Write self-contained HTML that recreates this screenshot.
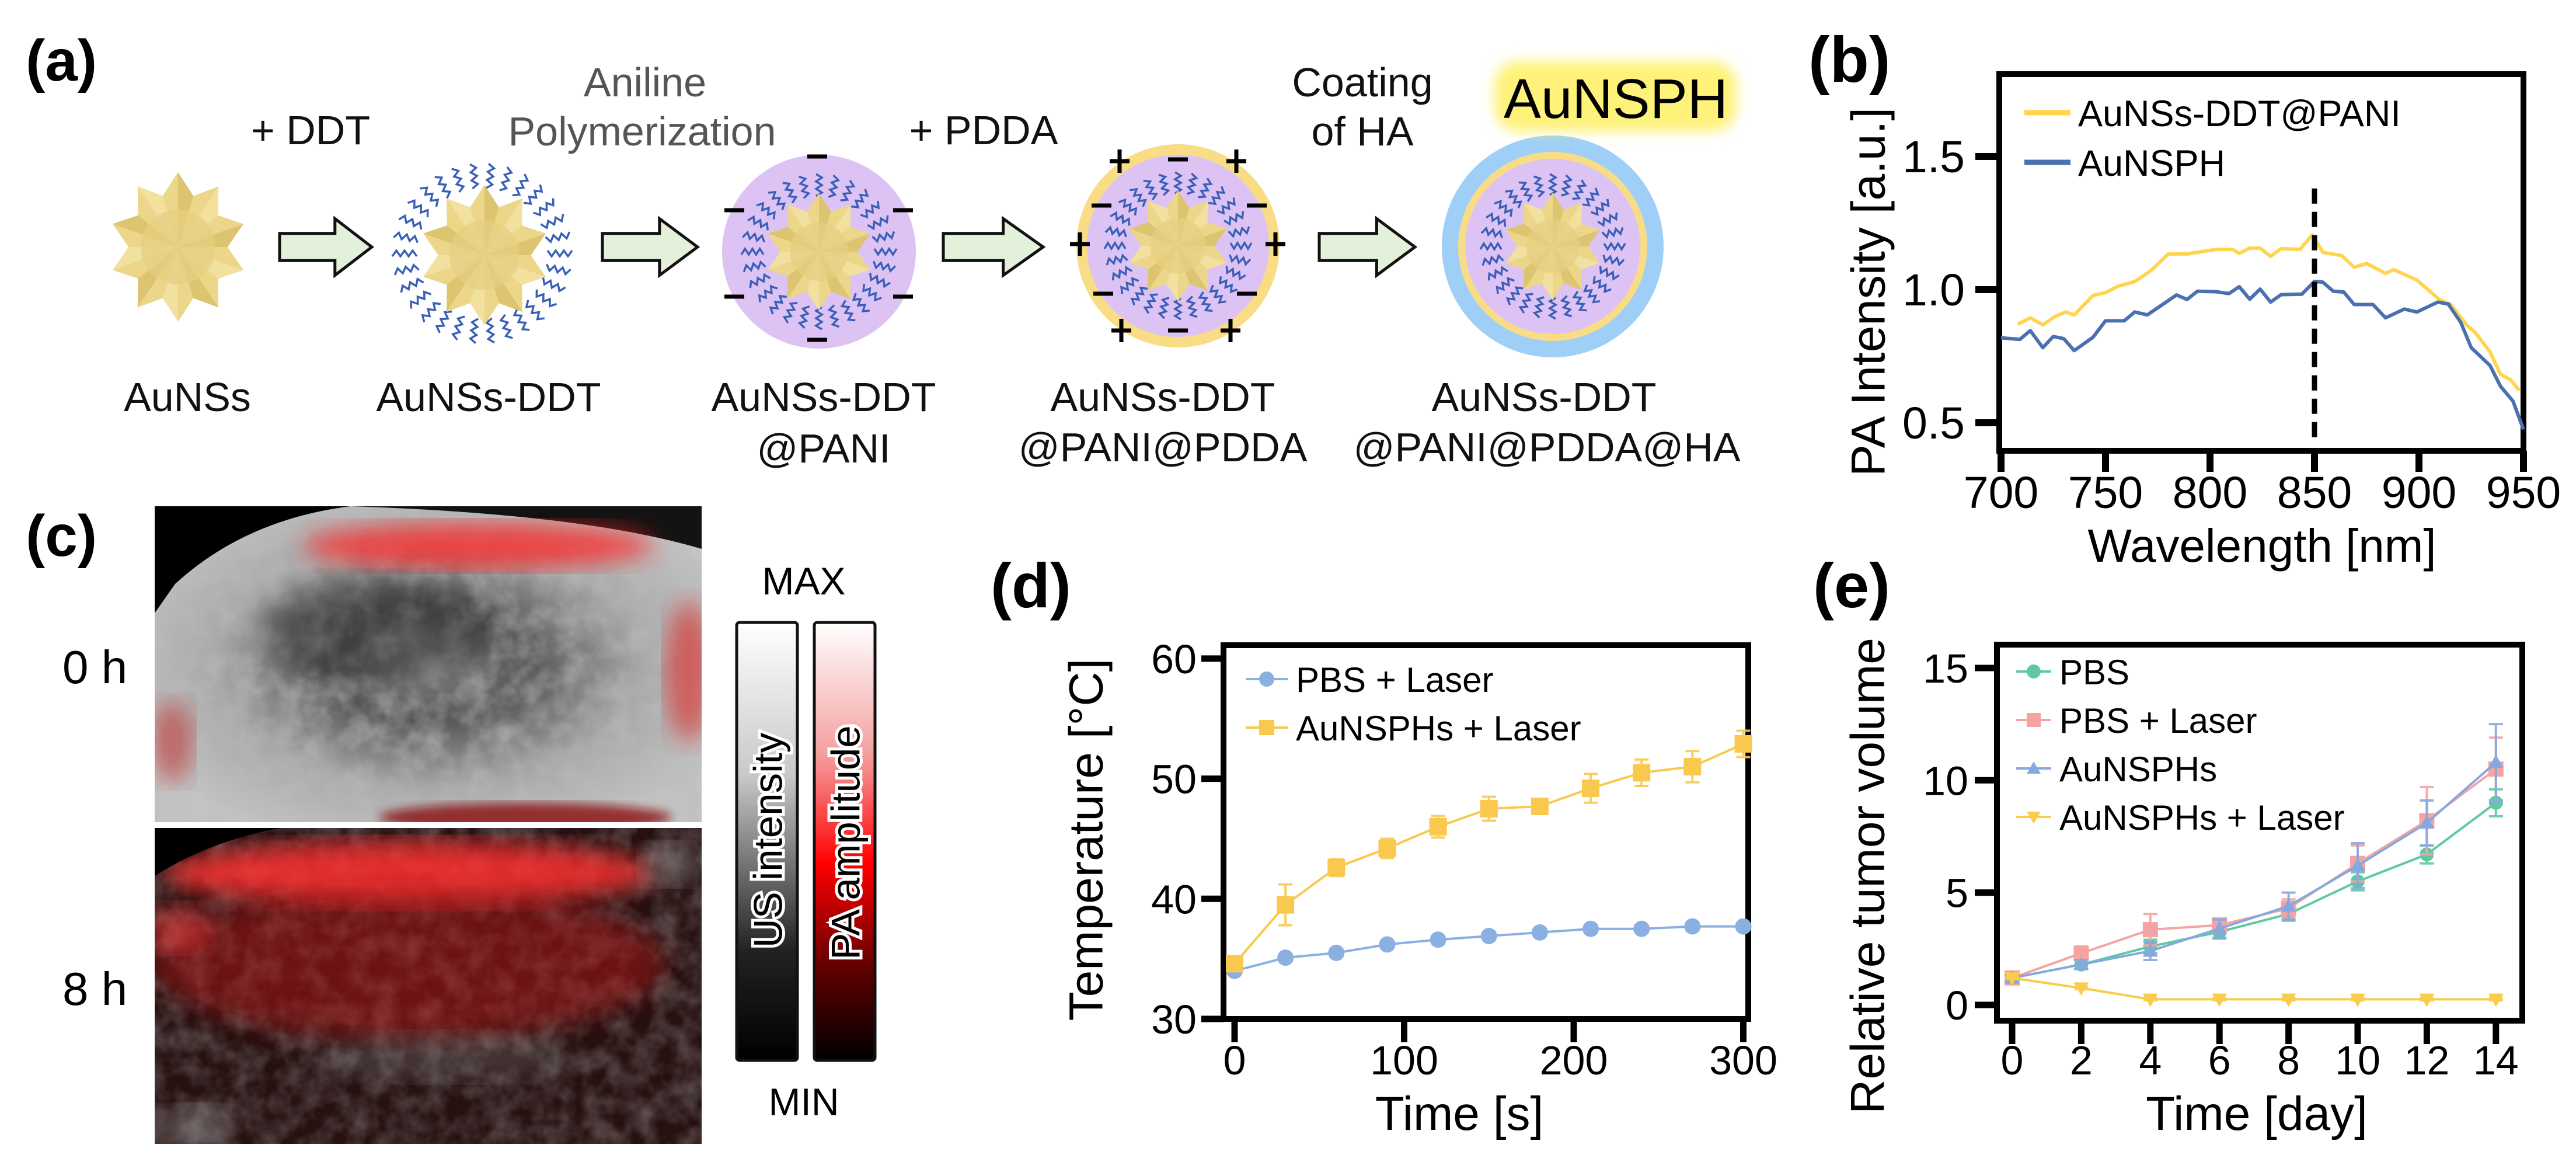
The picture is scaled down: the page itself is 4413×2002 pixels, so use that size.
<!DOCTYPE html>
<html><head><meta charset="utf-8"><style>
html,body{margin:0;padding:0;background:#fff}
svg{display:block;font-family:"Liberation Sans",Arial,sans-serif}
</style></head><body>
<svg id="fig" xmlns="http://www.w3.org/2000/svg" width="4413" height="2002" viewBox="0 0 4413 2002">
<defs>
  <linearGradient id="usGrad" x1="0" y1="0" x2="0" y2="1"><stop offset="0" stop-color="#fff"/><stop offset="0.35" stop-color="#c8c8c8"/><stop offset="0.75" stop-color="#222"/><stop offset="1" stop-color="#000"/></linearGradient>
  <linearGradient id="paGrad" x1="0" y1="0" x2="0" y2="1"><stop offset="0" stop-color="#fff"/><stop offset="0.3" stop-color="#f4a0a0"/><stop offset="0.55" stop-color="#ff0000"/><stop offset="0.8" stop-color="#5a0000"/><stop offset="1" stop-color="#000"/></linearGradient>
  <filter id="blur20"><feGaussianBlur stdDeviation="20"/></filter>
  <filter id="blur8"><feGaussianBlur stdDeviation="8"/></filter>
  <filter id="noise" x="0" y="0" width="1" height="1"><feTurbulence type="fractalNoise" baseFrequency="0.025" numOctaves="3" seed="4"/><feColorMatrix type="matrix" values="0 0 0 0 0.5  0 0 0 0 0.5  0 0 0 0 0.5  0 0 0 1.6 -0.5"/></filter>
  <filter id="glow" x="-20%" y="-40%" width="140%" height="180%"><feGaussianBlur stdDeviation="10"/></filter>
  <clipPath id="clipTop"><rect x="265" y="867" width="937" height="541"/></clipPath>
  <clipPath id="clipBot"><rect x="265" y="1418" width="937" height="541"/></clipPath>
  <radialGradient id="tissueTop" cx="0.5" cy="0.5" r="0.6"><stop offset="0" stop-color="#8a8a8a"/><stop offset="0.3" stop-color="#555"/><stop offset="0.65" stop-color="#a8a8a8"/><stop offset="1" stop-color="#c4c4c4"/></radialGradient>
</defs>

<!-- ===== Panel a ===== -->
<g id="panelA">
  <text x="44" y="138" font-size="100" font-weight="bold">(a)</text>
  <g id="particles"></g>
  <g font-size="70" text-anchor="middle" fill="#111">
    <text x="532" y="247">+ DDT</text>
    <text x="1105" y="165" fill="#555">Aniline</text>
    <text x="1100" y="249" fill="#555">Polymerization</text>
    <text x="1685" y="247">+ PDDA</text>
    <text x="2334" y="165">Coating</text>
    <text x="2334" y="249">of HA</text>
    <text x="321" y="704">AuNSs</text>
    <text x="837" y="704">AuNSs-DDT</text>
    <text x="1411" y="704">AuNSs-DDT</text>
    <text x="1411" y="792">@PANI</text>
    <text x="1992" y="704">AuNSs-DDT</text>
    <text x="1992" y="790">@PANI@PDDA</text>
    <text x="2645" y="704">AuNSs-DDT</text>
    <text x="2650" y="790">@PANI@PDDA@HA</text>
  </g>
  <rect x="2560" y="105" width="415" height="120" rx="40" fill="#fff27a" filter="url(#glow)"/>
  <text x="2768" y="202" font-size="96" text-anchor="middle">AuNSPH</text>
</g>

<!-- ===== Panel c ===== -->
<g id="panelC">
  <text x="44" y="952" font-size="100" font-weight="bold">(c)</text>
  <text x="107" y="1170" font-size="80">0 h</text>
  <text x="107" y="1721" font-size="80">8 h</text>
  <g clip-path="url(#clipTop)">
    <rect x="265" y="867" width="937" height="541" fill="url(#tissueTop)"/>
    <rect x="265" y="867" width="937" height="541" filter="url(#noise)" opacity="0.7"/>
    <path d="M265 867 H600 Q420 890 300 1000 L265 1050 Z" fill="#000"/>
    <path d="M600 867 H1202 V940 Q1000 880 600 867 Z" fill="#000" opacity="0.9"/>
    <ellipse cx="820" cy="935" rx="300" ry="40" fill="#ff2020" opacity="0.75" filter="url(#blur20)"/>
    <ellipse cx="1180" cy="1150" rx="40" ry="120" fill="#e02020" opacity="0.6" filter="url(#blur20)"/>
    <ellipse cx="295" cy="1270" rx="35" ry="70" fill="#c02020" opacity="0.55" filter="url(#blur20)"/>
    <ellipse cx="900" cy="1400" rx="250" ry="25" fill="#8a1010" opacity="0.8" filter="url(#blur8)"/>
    <ellipse cx="650" cy="1080" rx="200" ry="90" fill="#222" opacity="0.45" filter="url(#blur20)"/>
  </g>
  <g clip-path="url(#clipBot)">
    <rect x="265" y="1418" width="937" height="541" fill="#261010"/>
    <rect x="265" y="1418" width="937" height="541" filter="url(#noise)" opacity="0.4"/>
    <ellipse cx="700" cy="1495" rx="420" ry="55" fill="#ff3030" opacity="0.85" filter="url(#blur20)"/>
    <ellipse cx="700" cy="1650" rx="440" ry="130" fill="#b01818" opacity="0.5" filter="url(#blur20)"/>
    <ellipse cx="300" cy="1590" rx="60" ry="40" fill="#ff4040" opacity="0.5" filter="url(#blur20)"/>
    <ellipse cx="760" cy="1810" rx="220" ry="40" fill="#888" opacity="0.3" filter="url(#blur20)"/>
    <ellipse cx="330" cy="1930" rx="70" ry="35" fill="#999" opacity="0.45" filter="url(#blur20)"/>
    <ellipse cx="1150" cy="1480" rx="50" ry="35" fill="#aaa" opacity="0.45" filter="url(#blur20)"/>
    <path d="M265 1418 H480 Q360 1440 265 1500 Z" fill="#000"/>
  </g>
  <text x="1377" y="1018" font-size="66" text-anchor="middle">MAX</text>
  <text x="1377" y="1910" font-size="66" text-anchor="middle">MIN</text>
  <rect x="1262" y="1066" width="104" height="750" rx="5" fill="url(#usGrad)" stroke="#111" stroke-width="5"/>
  <rect x="1395" y="1066" width="104" height="750" rx="5" fill="url(#paGrad)" stroke="#111" stroke-width="5"/>
  <text transform="translate(1316,1439) rotate(-90)" font-size="69" text-anchor="middle" dominant-baseline="central" stroke="#fff" stroke-width="10" paint-order="stroke" fill="#000">US intensity</text>
  <text transform="translate(1449,1443) rotate(-90)" font-size="69" text-anchor="middle" dominant-baseline="central" stroke="#fff" stroke-width="10" paint-order="stroke" fill="#000">PA amplitude</text>
</g>

<g id="panelB">
  <text x="3098" y="140" font-size="110" font-weight="bold">(b)</text>
</g>
<g id="panelD">
  <text x="1697" y="1040" font-size="108" font-weight="bold">(d)</text>
</g>
<g id="panelE">
  <text x="3106" y="1040" font-size="108" font-weight="bold">(e)</text>
</g>
</svg>
<script>
// ---------- Panel b data ----------
const bYellowX = [708,714,720,726,731,735,744,750,756,764,772,780,789,803,811,814,819,824,829,834,843,849,854,863,869,875,884,888,899,910,915,923,927,934,939,944,948];
const bYellowY = [0.87,0.894,0.868,0.90,0.916,0.905,0.978,0.989,1.013,1.030,1.073,1.134,1.134,1.151,1.151,1.136,1.156,1.156,1.125,1.154,1.151,1.206,1.140,1.128,1.084,1.098,1.061,1.075,1.036,0.961,0.946,0.866,0.838,0.766,0.682,0.660,0.621];
const bBlueX = [700,709,714,720,725,730,735,744,750,759,764,770,784,789,794,803,809,814,819,824,829,834,844,850,854,859,864,869,878,884,893,899,909,914,920,925,934,939,945,950];
const bBlueY = [0.819,0.813,0.846,0.782,0.824,0.816,0.771,0.821,0.883,0.883,0.916,0.905,0.980,0.963,0.994,0.992,0.985,1.011,0.964,1.002,0.953,0.981,0.983,1.031,1.028,0.994,0.991,0.944,0.944,0.894,0.927,0.916,0.953,0.946,0.877,0.782,0.715,0.637,0.581,0.475];
const bXTicks = [700,750,800,850,900,950];
const bYTicks = [0.5,1.0,1.5];
const bYTickLabels = ["0.5","1.0","1.5"];
const bDashX = 850;
const bDashRange = [0.44,1.38];
const bLegend = ["AuNSs-DDT@PANI","AuNSPH"];

// ---------- Panel d data ----------
const dTimes = [0,30,60,90,120,150,180,210,240,270,300];
const dPBS = [34.0,35.1,35.5,36.2,36.6,36.9,37.2,37.5,37.5,37.7,37.7];
const dPBSErr = [0.3,0.3,0.3,0.3,0.3,0.3,0.3,0.3,0.3,0.3,0.3];
const dAu = [34.6,39.5,42.6,44.2,46.0,47.5,47.7,49.2,50.5,51.0,52.9];
const dAuErr = [0.5,1.7,0.7,0.8,0.9,1.0,0.5,1.2,1.1,1.3,1.1];
const dXTicks = [0,100,200,300];
const dYTicks = [30,40,50,60];
const dLegend = ["PBS + Laser","AuNSPHs + Laser"];

// ---------- Panel e data ----------
const eDays = [0,2,4,6,8,10,12,14];
const ePBS = [1.2,1.8,2.6,3.25,4.05,5.5,6.7,9.0];
const ePBSErr = [0.1,0.2,0.3,0.3,0.3,0.4,0.4,0.6];
const ePBSL = [1.2,2.3,3.35,3.55,4.3,6.3,8.2,10.5];
const ePBSLErr = [0.1,0.3,0.7,0.3,0.4,0.8,1.5,1.4];
const eAu = [1.2,1.8,2.4,3.4,4.4,6.2,8.1,10.8];
const eAuErr = [0.1,0.2,0.4,0.4,0.6,1.0,1.0,1.7];
const eAuL = [1.2,0.75,0.25,0.25,0.25,0.25,0.25,0.25];
const eAuLErr = [0.05,0.05,0.05,0.05,0.05,0.05,0.05,0.05];
const eXTicks = [0,2,4,6,8,10,12,14];
const eYTicks = [0,5,10,15];
const eLegend = ["PBS","PBS + Laser","AuNSPHs","AuNSPHs + Laser"];

const NS = "http://www.w3.org/2000/svg";
function mk(parent, tag, attrs, text) {
  const el = document.createElementNS(NS, tag);
  for (const k in attrs) el.setAttribute(k, attrs[k]);
  if (text !== undefined) el.textContent = text;
  parent.appendChild(el);
  return el;
}

// ---------- Panel b ----------
(function(){
  const g = document.getElementById('panelB');
  const xs = v => 3428 + (v - 700) * 3.58;
  const ys = v => 496 - (v - 1) * 456;
  const box = mk(g,'rect',{x:3425,y:127,width:898,height:645,fill:'none',stroke:'#000','stroke-width':10});
  
  
  bYTicks.forEach((t,i)=>{
    const l = mk(g,'line',{x1:3384,x2:3425,y1:ys(t),y2:ys(t),stroke:'#000','stroke-width':12});
    
    
    const tx = mk(g,'text',{x:3366,y:ys(t)+27,'font-size':77,'text-anchor':'end'},bYTickLabels[i]);
    
    
  });
  bXTicks.forEach(t=>{
    const l = mk(g,'line',{x1:xs(t),x2:xs(t),y1:772,y2:808,stroke:'#000','stroke-width':12});
    
    
    const tx = mk(g,'text',{x:xs(t),y:870,'font-size':77,'text-anchor':'middle'},String(t));
    
    
  });
  const xl = mk(g,'text',{x:3875,y:962,'font-size':80,'text-anchor':'middle'},'Wavelength [nm]');
  
  
  const yl = mk(g,'text',{transform:'translate(3201,500) rotate(-90)','font-size':82,'text-anchor':'middle','dominant-baseline':'central'},'PA Intensity [a.u.]');
  
  
  const py = bYellowX.map((x,i)=>xs(x)+','+ys(bYellowY[i])).join(' ');
  const ly = mk(g,'polyline',{points:py,fill:'none',stroke:'#ffd54f','stroke-width':6,'stroke-linejoin':'round'});
  
  
  const pb = bBlueX.map((x,i)=>xs(x)+','+ys(bBlueY[i])).join(' ');
  const lb = mk(g,'polyline',{points:pb,fill:'none',stroke:'#4a70b0','stroke-width':6,'stroke-linejoin':'round'});
  
  
  const dl = mk(g,'line',{x1:xs(bDashX),x2:xs(bDashX),y1:ys(bDashRange[1]),y2:ys(bDashRange[0]),stroke:'#000','stroke-width':9,'stroke-dasharray':'26 14'});
  
  
  const cols = ['#ffd54f','#4a70b0'];
  bLegend.forEach((s,i)=>{
    const y = 193 + i*85;
    const l = mk(g,'line',{x1:3468,x2:3547,y1:y,y2:y,stroke:cols[i],'stroke-width':9});
    
    
    const t = mk(g,'text',{x:3560,y:y+23,'font-size':63},s);
    
    
  });
})();

function marker(g, shape, x, y, s, col) {
  let el;
  if (shape==='circle') el = mk(g,'circle',{cx:x,cy:y,r:s,fill:col});
  else if (shape==='square') el = mk(g,'rect',{x:x-s,y:y-s,width:2*s,height:2*s,fill:col});
  else if (shape==='tri') el = mk(g,'polygon',{points:`${x},${y-s} ${x-s},${y+s*0.75} ${x+s},${y+s*0.75}`,fill:col});
  else el = mk(g,'polygon',{points:`${x},${y+s} ${x-s},${y-s*0.75} ${x+s},${y-s*0.75}`,fill:col});
  return el;
}

function drawSeries(g, xArr, yArr, eArr, xs, ys, col, shape, size, name) {
  const sg = mk(g,'g',{});
  
  
  xArr.forEach((x,i)=>{
    const X = xs(x), Y1 = ys(yArr[i]-eArr[i]), Y2 = ys(yArr[i]+eArr[i]);
    const e = mk(sg,'path',{d:`M${X},${Y1}V${Y2}M${X-12},${Y1}H${X+12}M${X-12},${Y2}H${X+12}`,stroke:col,'stroke-width':4,fill:'none',opacity:0.9});
    
    
  });
  const pl = mk(sg,'polyline',{points:xArr.map((x,i)=>xs(x)+','+ys(yArr[i])).join(' '),fill:'none',stroke:col,'stroke-width':4});
  
  
  xArr.forEach((x,i)=>{
    const m = marker(sg, shape, xs(x), ys(yArr[i]), size, col);
    
    
  });
}

function axes(g, box, xTicks, yTicks, xs, ys, yLabRight, xTickBottom, suffix) {
  const b = mk(g,'rect',{x:box[0],y:box[1],width:box[2]-box[0],height:box[3]-box[1],fill:'none',stroke:'#000','stroke-width':10});
  
  
  yTicks.forEach(t=>{
    const l = mk(g,'line',{x1:box[0]-38,x2:box[0],y1:ys(t),y2:ys(t),stroke:'#000','stroke-width':11});
    
    
    const tx = mk(g,'text',{x:yLabRight,y:ys(t)+25,'font-size':70,'text-anchor':'end'},String(t));
    
    
  });
  xTicks.forEach(t=>{
    const l = mk(g,'line',{x1:xs(t),x2:xs(t),y1:box[3],y2:box[3]+40,stroke:'#000','stroke-width':11});
    
    
    const tx = mk(g,'text',{x:xs(t),y:xTickBottom,'font-size':70,'text-anchor':'middle'},String(t));
    
    
  });
}

// ---------- Panel d ----------
(function(){
  const g = document.getElementById('panelD');
  const xs = v => 2115 + v * 2.905;
  const ys = v => 1745 - (v - 30) * 20.57;
  axes(g,[2096,1105,2995,1745],dXTicks,dYTicks,xs,ys,2050,1840,'d');
  drawSeries(g,dTimes,dPBS,dPBSErr,xs,ys,'#8ab0e2','circle',14,'series-pbs-laser');
  drawSeries(g,dTimes,dAu,dAuErr,xs,ys,'#f9c84e','square',15,'series-aunsphs-laser');
  const xl = mk(g,'text',{x:2500,y:1935,'font-size':82,'text-anchor':'middle'},'Time [s]');
  
  
  const yl = mk(g,'text',{transform:'translate(1861,1438) rotate(-90)','font-size':82,'text-anchor':'middle','dominant-baseline':'central'},'Temperature [°C]');
  
  
  const cols=['#8ab0e2','#f9c84e'], shapes=['circle','square'];
  dLegend.forEach((s,i)=>{
    const y = 1163 + i*83;
    const l = mk(g,'line',{x1:2134,x2:2206,y1:y,y2:y,stroke:cols[i],'stroke-width':4});
    
    
    const m = marker(g,shapes[i],2170,y,13,cols[i]);
    
    
    const t = mk(g,'text',{x:2220,y:y+22,'font-size':60},s);
    
    
  });
})();

// ---------- Panel e ----------
(function(){
  const g = document.getElementById('panelE');
  const xs = v => 3447 + v * 59.2;
  const ys = v => 1721 - v * 38.47;
  axes(g,[3421,1104,4321,1748],eXTicks,eYTicks,xs,ys,3372,1840,'e');
  drawSeries(g,eDays,ePBS,ePBSErr,xs,ys,'#5fc9a3','circle',12,'series-pbs');
  drawSeries(g,eDays,ePBSL,ePBSLErr,xs,ys,'#f5a3a3','square',13,'series-pbs-laser-e');
  drawSeries(g,eDays,eAu,eAuErr,xs,ys,'#85a8e0','tri',13,'series-aunsphs');
  drawSeries(g,eDays,eAuL,eAuLErr,xs,ys,'#f9cc4a','dtri',13,'series-aunsphs-laser-e');
  const xl = mk(g,'text',{x:3866,y:1935,'font-size':82,'text-anchor':'middle'},'Time [day]');
  
  
  const yl = mk(g,'text',{transform:'translate(3200,1500) rotate(-90)','font-size':82,'text-anchor':'middle','dominant-baseline':'central'},'Relative tumor volume');
  
  
  const cols=['#5fc9a3','#f5a3a3','#85a8e0','#f9cc4a'], shapes=['circle','square','tri','dtri'];
  eLegend.forEach((s,i)=>{
    const y = 1150 + i*83;
    const l = mk(g,'line',{x1:3454,x2:3514,y1:y,y2:y,stroke:cols[i],'stroke-width':4});
    
    
    const m = marker(g,shapes[i],3484,y,12,cols[i]);
    
    
    const t = mk(g,'text',{x:3528,y:y+22,'font-size':60},s);
    
    
  });
})();

// ---------- Panel a particles ----------
(function(){
  const g = document.getElementById('particles');
  function star(cx, cy, r) {
    const sg = mk(g,'g',{});
    
    
    const n = 10, pts = [];
    for (let i=0;i<2*n;i++){
      const a = -Math.PI/2 + i*Math.PI/n;
      const rr = (i%2===0) ? r : r*0.72;
      pts.push([cx+rr*Math.cos(a)*0.92, cy+rr*Math.sin(a)]);
    }
    mk(sg,'polygon',{points:pts.map(p=>p.join(',')).join(' '),fill:'#ecd68a'});
    for (let i=0;i<2*n;i+=2){
      const p1 = pts[i], p2 = pts[(i+1)%(2*n)];
      mk(sg,'polygon',{points:`${cx},${cy} ${p1[0]},${p1[1]} ${p2[0]},${p2[1]}`,fill:(i%4===0)?'#d9bf6a':'#f3e2a2',opacity:0.8});
    }
    mk(sg,'circle',{cx:cx,cy:cy,r:r*0.5,fill:'#e6cf80',opacity:0.75});
  }
  function squiggles(cx, cy, r0, len, count) {
    let d = '';
    for (let i=0;i<count;i++){
      const a = i*2*Math.PI/count;
      const ux = Math.cos(a), uy = Math.sin(a), px = -uy, py = ux;
      for (let k=0;k<=6;k++){
        const rr = r0 + len*k/6, off = (k%2? 5:-5);
        const x = cx+ux*rr+px*off, y = cy+uy*rr+py*off;
        d += (k===0?'M':'L')+x.toFixed(1)+','+y.toFixed(1);
      }
    }
    const p = mk(g,'path',{d:d,fill:'none',stroke:'#3a5fb8','stroke-width':3.5});
    
    
  }
  function arrow(x0, x1, cy, h) {
    const w = x1-x0, sh = h*0.48, hx = x0 + w*0.6;
    const a = mk(g,'polygon',{points:`${x0},${cy-sh/2} ${hx},${cy-sh/2} ${hx},${cy-h/2} ${x1},${cy} ${hx},${cy+h/2} ${hx},${cy+sh/2} ${x0},${cy+sh/2}`,fill:'#e3f0da',stroke:'#111','stroke-width':5});
    
    
  }
  function charge(x, y, plus) {
    let d = `M${x-17},${y}H${x+17}`;
    if (plus) d += `M${x},${y-20}V${y+20}`;
    const c = mk(g,'path',{d:d,stroke:'#000','stroke-width':7});
    
    
  }
  star(305,423,128);
  arrow(479,637,423,97);
  squiggles(826,434,112,42,30);
  star(830,437,120);
  arrow(1032,1195,423,97);
  const c3 = mk(g,'circle',{cx:1403,cy:431,r:166,fill:'#dcc3f3'});
  
  
  squiggles(1403,431,95,38,28);
  star(1403,431,100);
  [[1400,268],[1400,582],[1258,360],[1547,360],[1258,508],[1547,508]].forEach(p=>charge(p[0],p[1],false));
  arrow(1616,1787,423,97);
  const c4a = mk(g,'circle',{cx:2018,cy:421,r:174,fill:'#f9dc86'});
  
  
  const c4b = mk(g,'circle',{cx:2018,cy:421,r:156,fill:'#dcc3f3'});
  
  
  squiggles(2018,421,90,36,28);
  star(2018,421,95);
  [[1918,276,1],[2018,273,0],[2118,276,1],[1887,352,0],[2153,352,0],[1850,418,1],[2185,418,1],[1890,503,0],[2136,503,0],[1921,566,1],[2018,566,0],[2108,566,1]].forEach(p=>charge(p[0],p[1],!!p[2]));
  arrow(2260,2424,423,97);
  const c5a = mk(g,'circle',{cx:2660,cy:422,r:190,fill:'#9fcff7'});
  
  
  const c5b = mk(g,'circle',{cx:2660,cy:422,r:162,fill:'#f9dc86'});
  
  
  const c5c = mk(g,'circle',{cx:2660,cy:422,r:150,fill:'#dcc3f3'});
  
  
  squiggles(2660,422,88,36,28);
  star(2660,422,92);
})();
</script>
</body></html>
